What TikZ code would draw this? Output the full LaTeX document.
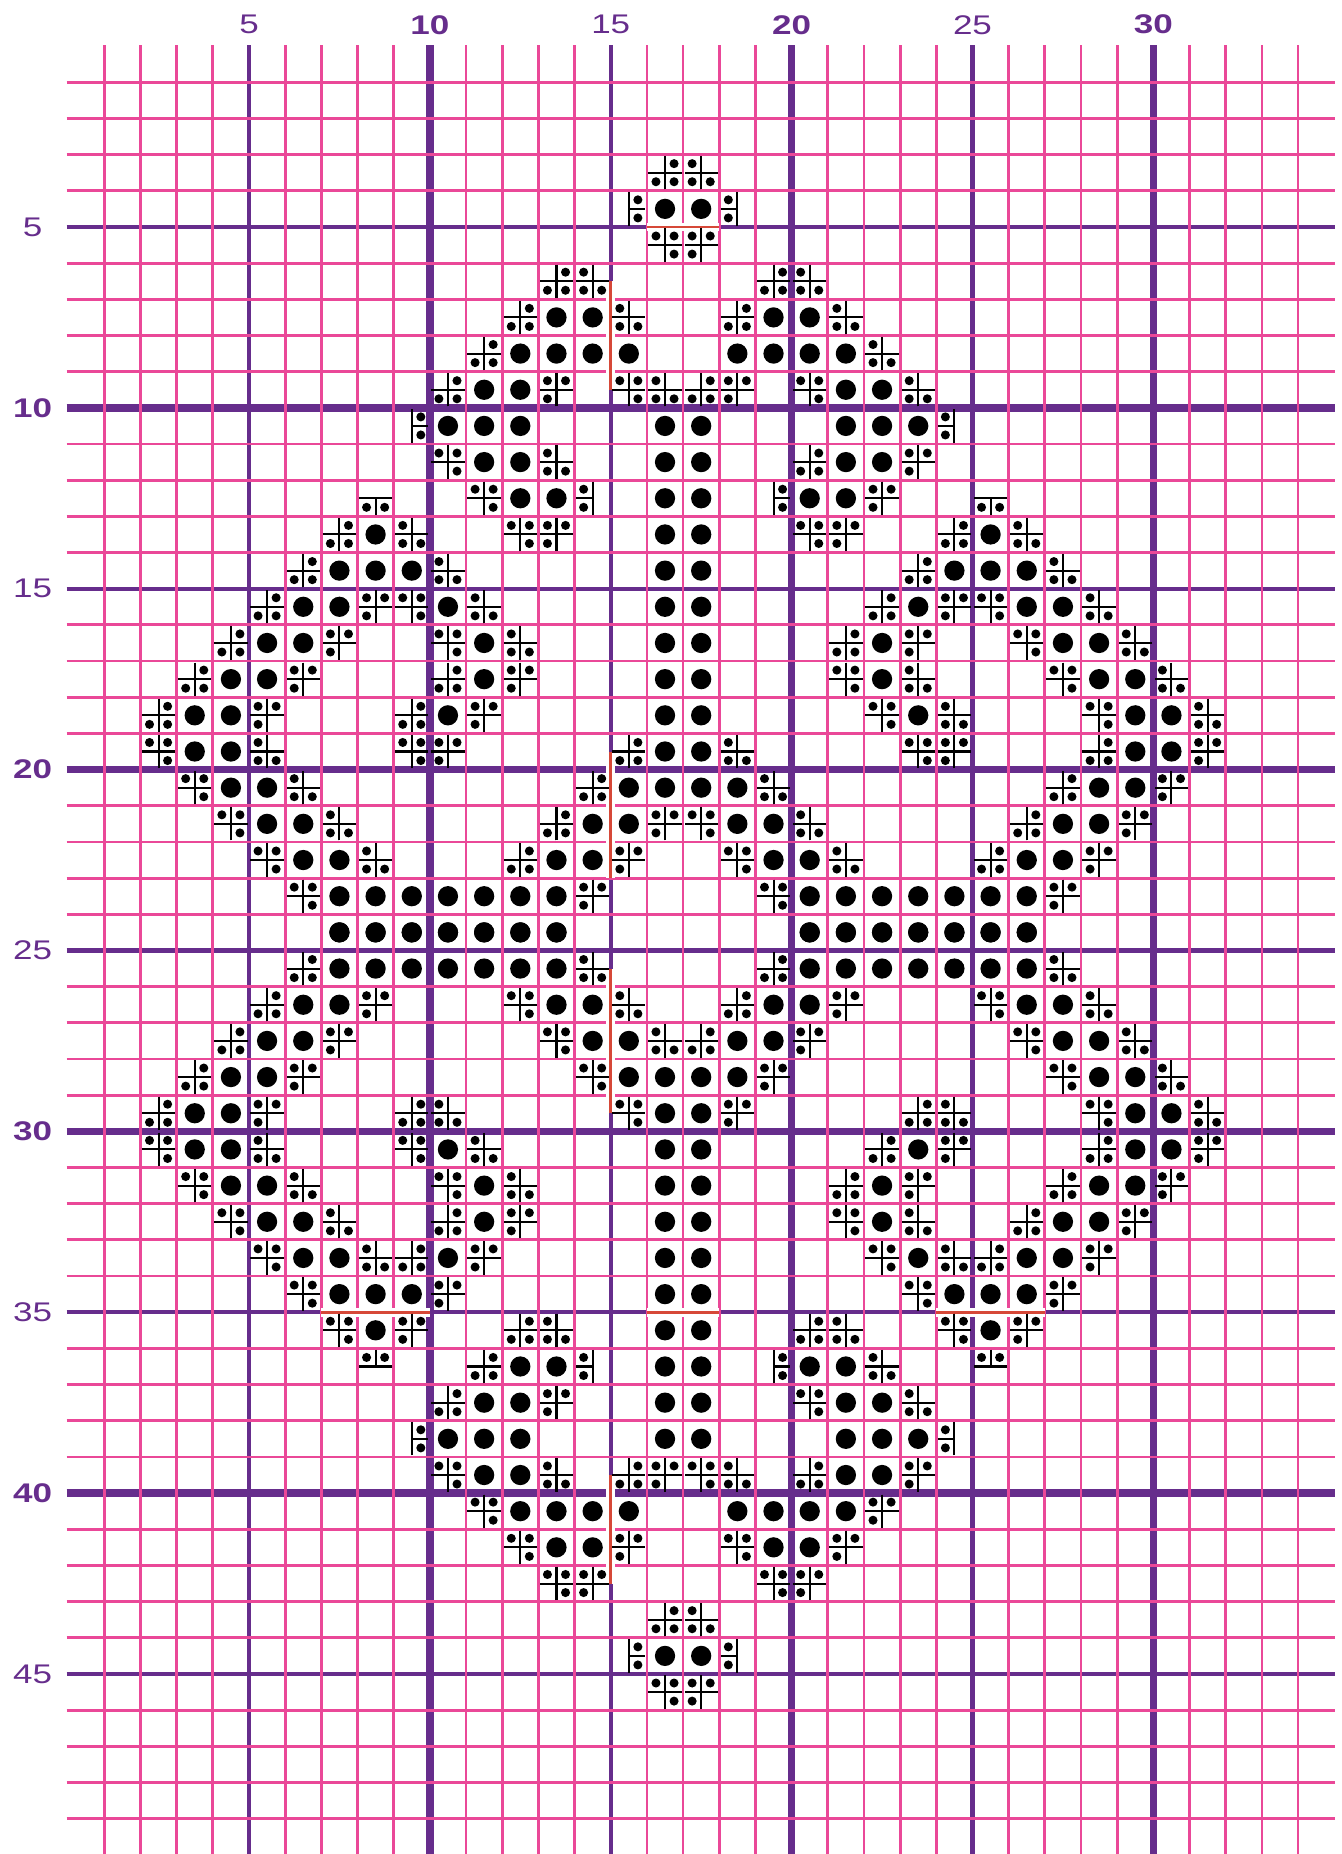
\documentclass[tikz,border=0pt]{standalone}
\usepackage{fontspec}
\newfontfamily\chartfont{Liberation Sans}
\definecolor{gridpink}{RGB}{234,72,152}
\definecolor{gridpurple}{RGB}{102,45,140}
\definecolor{backred}{RGB}{214,72,56}
\tikzset{
  pinkline/.style={draw=gridpink, line width=1.1pt},
  fiveline/.style={draw=gridpurple, line width=1.7pt},
  tenline/.style={draw=gridpurple, line width=3pt},
  fullstitch/.style={fill=black},
  quarterline/.style={draw=black, line width=0.8pt},
  axislabel/.style={font=\chartfont\fontsize{10.6}{13}\selectfont, text=gridpurple, inner sep=0pt, xscale=1.3},
  boldlabel/.style={axislabel, font=\chartfont\bfseries\fontsize{10.6}{13}\selectfont},
  backstitch/.style={draw=backred, line width=1.1pt},
}
% one cell of three-quarter stitches: #3..#6 = UL, UR, LL, LR
\newcommand{\quartcell}[6]{%
  \ifnum#3=1 \fill (#1-0.75,#2-0.75) circle[radius=0.125];
    \draw[quarterline] (#1-0.5,#2-0.96) -- (#1-0.5,#2-0.5) -- (#1-0.96,#2-0.5);\fi
  \ifnum#4=1 \fill (#1-0.25,#2-0.75) circle[radius=0.125];
    \draw[quarterline] (#1-0.5,#2-0.96) -- (#1-0.5,#2-0.5) -- (#1-0.04,#2-0.5);\fi
  \ifnum#5=1 \fill (#1-0.75,#2-0.25) circle[radius=0.125];
    \draw[quarterline] (#1-0.5,#2-0.04) -- (#1-0.5,#2-0.5) -- (#1-0.96,#2-0.5);\fi
  \ifnum#6=1 \fill (#1-0.25,#2-0.25) circle[radius=0.125];
    \draw[quarterline] (#1-0.5,#2-0.04) -- (#1-0.5,#2-0.5) -- (#1-0.04,#2-0.5);\fi
}

\begin{document}
\begin{tikzpicture}[x=0.5cm, y=-0.5cm]
  \useasboundingbox (-1.883,-1.274) rectangle (35.187,49.977);
  % grid
  \foreach \i in {5,15,25} \draw[fiveline] (\i,-0.03) -- (\i,49.977);
  \foreach \i in {10,20,30} \draw[tenline] (\i,-0.03) -- (\i,49.977);
  \foreach \j in {5,15,25,35,45} \draw[fiveline] (-0.04,\j) -- (35.02,\j);
  \foreach \j in {10,20,30,40} \draw[tenline] (-0.04,\j) -- (35.02,\j);
  \foreach \i in {1,...,4,6,7,8,9,11,12,13,14,16,17,18,19,21,22,23,24,26,27,28,29,31,32,33,34}
    \draw[pinkline] (\i,-0.03) -- (\i,49.977);
  \foreach \j in {1,...,4,6,7,8,9,11,12,13,14,16,17,18,19,21,22,23,24,26,27,28,29,31,32,33,34,36,37,38,39,41,42,43,44,46,47,48,49}
    \draw[pinkline] (-0.04,\j) -- (35.02,\j);
  % back stitches
  \foreach \a/\b in {{(15,6.5)}/{(15,9.5)}, {(15,19.5)}/{(15,23)}, {(15,25.5)}/{(15,29.5)},
      {(15,39.5)}/{(15,42.5)}, {(16,5)}/{(18,5)}, {(7,35)}/{(10,35)}, {(16,35)}/{(18,35)}, {(24,35)}/{(27,35)}} {
    \draw[white, line width=3.4pt] \a -- \b;
    \draw[backstitch] \a -- \b;
  }
  % labels
  \foreach \n in {5,15,25} \node[axislabel] (top\n) at (\n,-0.59) {\n};
  \foreach \n in {10,20,30} \node[boldlabel] (top\n) at (\n,-0.59) {\n};
  \foreach \n in {5,15,25,35,45} \node[axislabel] (left\n) at (-0.98,\n) {\n};
  \foreach \n in {10,20,30,40} \node[boldlabel] (left\n) at (-0.98,\n) {\n};
  % the motif: one quarter, mirrored four ways
  \foreach \sx/\sy in {1/1,-1/1,1/-1,-1/-1} {
    \begin{scope}[shift={(17,24.5)}, xscale=\sx, yscale=\sy, shift={(-17,-24.5)}]
      \foreach \c/\r in {17/5, 14/8, 15/8, 13/9, 14/9, 15/9, 16/9, 12/10, 13/10,
          11/11, 12/11, 13/11, 17/11, 12/12, 13/12, 17/12, 13/13, 14/13, 17/13,
          9/14, 17/14, 8/15, 9/15, 10/15, 17/15, 7/16, 8/16, 11/16, 17/16,
          6/17, 7/17, 12/17, 17/17, 5/18, 6/18, 12/18, 17/18, 4/19, 5/19, 11/19, 17/19,
          4/20, 5/20, 17/20, 5/21, 6/21, 16/21, 17/21, 6/22, 7/22, 15/22, 16/22,
          7/23, 8/23, 14/23, 15/23}
        \fill[fullstitch] (\c-0.5,\r-0.5) circle[radius=0.28];
      \foreach \r in {24,25} \foreach \c in {8,...,14}
        \fill[fullstitch] (\c-0.5,\r-0.5) circle[radius=0.28];
      \foreach \c/\r/\qa/\qb/\qc/\qd in {17/4/0/1/1/1, 16/5/0/1/0/1, 17/6/1/1/0/1,
          14/7/0/1/1/1, 15/7/1/0/1/1, 13/8/0/1/1/1, 16/8/1/0/1/1, 12/9/0/1/1/1,
          11/10/0/1/1/1, 14/10/1/1/1/0, 16/10/1/1/0/1, 17/10/1/0/1/1, 10/11/0/1/0/1,
          11/12/1/1/0/1, 14/12/1/0/1/1, 9/13/0/0/1/1, 12/13/1/1/0/1, 15/13/1/0/1/0,
          8/14/0/1/1/1, 10/14/1/0/1/1, 13/14/1/1/0/1, 14/14/1/1/1/0,
          7/15/0/1/1/1, 11/15/1/0/1/1,
          6/16/0/1/1/1, 9/16/1/1/1/0, 10/16/1/1/0/1, 12/16/1/0/1/1,
          5/17/0/1/1/1, 8/17/1/1/1/0, 11/17/1/1/0/1, 13/17/1/0/1/1,
          4/18/0/1/1/1, 7/18/1/1/1/0, 11/18/0/1/1/1, 13/18/1/1/1/0,
          3/19/0/1/1/1, 6/19/1/1/1/0, 10/19/0/1/1/1, 12/19/1/1/1/0,
          3/20/1/1/0/1, 6/20/1/0/1/1, 10/20/1/1/0/1, 11/20/1/1/1/0, 16/20/0/1/1/1,
          4/21/1/1/0/1, 7/21/1/0/1/1, 15/21/0/1/1/1,
          5/22/1/1/0/1, 8/22/1/0/1/1, 14/22/0/1/1/1, 17/22/1/1/1/0,
          6/23/1/1/0/1, 9/23/1/0/1/1, 13/23/0/1/1/1, 16/23/1/1/1/0,
          7/24/1/1/0/1, 15/24/1/1/1/0}
        {\quartcell{\c}{\r}{\qa}{\qb}{\qc}{\qd}}
    \end{scope}
  }
\end{tikzpicture}
\end{document}
